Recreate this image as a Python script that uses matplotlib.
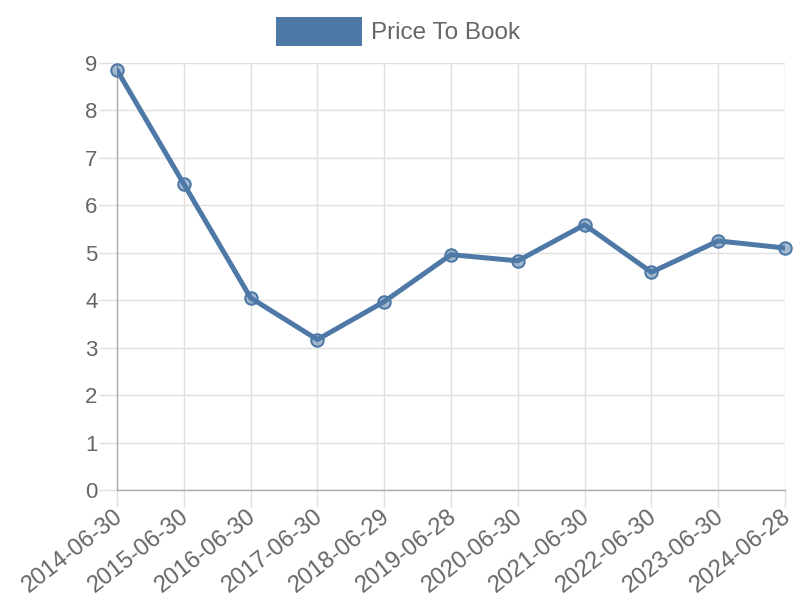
import matplotlib
matplotlib.use('Agg')
import matplotlib.pyplot as plt
import matplotlib.transforms as mtransforms
from matplotlib.patches import Rectangle

# Data
dates = ['2014-06-30', '2015-06-30', '2016-06-30', '2017-06-30', '2018-06-29',
         '2019-06-28', '2020-06-30', '2021-06-30', '2022-06-30', '2023-06-30',
         '2024-06-28']
price_to_book = [8.85, 6.45, 4.05, 3.17, 3.97, 4.96, 4.83, 5.59, 4.59, 5.25, 5.10]
yticks = list(range(0, 10))

line_color = '#4e79a7'
text_color = '#666666'
grid_color = '#e0e0e0'

plt.rcParams['font.family'] = ['Liberation Sans', 'DejaVu Sans']

fig = plt.figure(figsize=(8, 6), dpi=100)
ax = fig.add_axes([117 / 800, 1 - 490 / 600, 668 / 800, 427 / 600])

x = list(range(len(dates)))
ax.plot(x, price_to_book, color=line_color, linewidth=3.6, zorder=3,
        solid_capstyle='round', solid_joinstyle='round')
ax.scatter(x, price_to_book, s=80, facecolor=(78 / 255, 121 / 255, 167 / 255, 0.5),
           edgecolor=line_color, linewidth=1.5, zorder=4, clip_on=False)

ax.set_xlim(0, len(dates) - 1)
ax.set_ylim(0, 9)
ax.set_yticks(yticks)
ax.set_xticks(x)
ax.set_xticklabels(dates, rotation=38, ha='right', rotation_mode='anchor')
ax.tick_params(axis='both', colors=grid_color, labelcolor=text_color,
               labelsize=16, length=13, width=1, pad=1)
ax.tick_params(axis='x', labelsize=17, length=12, pad=0)
ax.grid(True, color=grid_color, linewidth=1)
ax.set_axisbelow(True)

# nudge the rotated date labels so their ends sit under the ticks
shift = mtransforms.ScaledTranslation(-4 / 100, 1 / 100, fig.dpi_scale_trans)
for lbl in ax.get_xticklabels():
    lbl.set_transform(lbl.get_transform() + shift)

for side in ['top', 'right']:
    ax.spines[side].set_visible(False)
for side in ['left', 'bottom']:
    ax.spines[side].set_color('#aaaaaa')
    ax.spines[side].set_linewidth(1)

# Legend drawn by hand (Chart.js style box)
fig.patches.append(Rectangle((276 / 800, 1 - 46 / 600), 86 / 800, 29 / 600,
                             transform=fig.transFigure, facecolor=line_color,
                             edgecolor='none'))
fig.text(371 / 800, 1 - 33 / 600, 'Price To Book', color=text_color,
         fontsize=17.5, va='center', ha='left')

fig.savefig('out.png', dpi=100)
